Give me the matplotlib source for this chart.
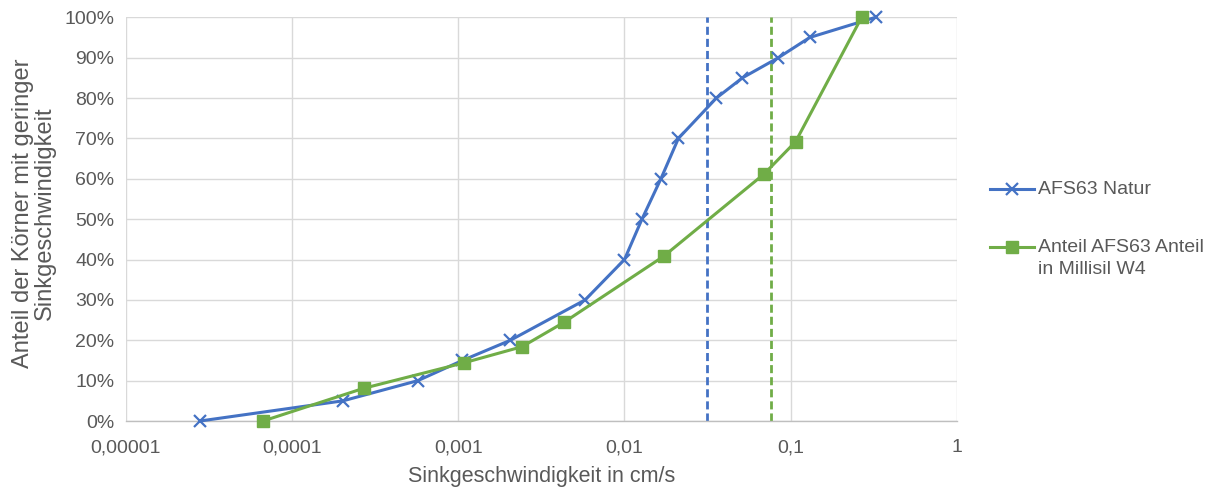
import numpy as np
import matplotlib
matplotlib.use("Agg")
import matplotlib.pyplot as plt
from matplotlib.lines import Line2D
from matplotlib.ticker import FixedLocator, FixedFormatter, NullLocator

plt.rcParams['font.family'] = ['Liberation Sans', 'DejaVu Sans']

# AFS63 Natur
natur_v = [2.8e-5, 2.03e-4, 5.72e-4, 1.06e-3, 2.06e-3, 5.8e-3, 0.01,
           0.01274, 0.01656, 0.0211, 0.0357, 0.0512, 0.0843, 0.130, 0.324]
natur_p = [0, 5, 10, 15, 20, 30, 40, 50, 60, 70, 80, 85, 90, 95, 100]

# Anteil AFS63 in Millisil W4
mill_v = [6.7e-5, 2.70e-4, 1.08e-3, 2.42e-3, 4.31e-3, 0.0172, 0.0692, 0.107, 0.267]
mill_p = [0, 8.1, 14.4, 18.4, 24.4, 40.8, 61.2, 69.2, 100]

# Grenzwerte (gestrichelt)
v_natur = 0.0315
v_mill = 0.0759

xticks = [1e-5, 1e-4, 1e-3, 1e-2, 1e-1, 1]
xticklabels = ["0,00001", "0,0001", "0,001", "0,01", "0,1", "1"]
yticks = [0, 10, 20, 30, 40, 50, 60, 70, 80, 90, 100]

blue = "#4472C4"
green = "#70AD47"
grey = "#595959"
grid = "#D9D9D9"

fig = plt.figure(figsize=(12.06, 4.91), dpi=100)
ax = fig.add_axes([125.7 / 1206, 70 / 491, (957 - 125.7) / 1206, (421 - 17.3) / 491])

ax.set_xscale("log")
ax.set_xlim(1e-5, 1)
ax.set_ylim(0, 100)

ax.xaxis.set_major_locator(FixedLocator(xticks))
ax.xaxis.set_major_formatter(FixedFormatter(xticklabels))
ax.xaxis.set_minor_locator(NullLocator())
ax.set_yticks(yticks)
ax.set_yticklabels([f"{t}%" for t in yticks])

ax.grid(True, color=grid, linewidth=1.0)
ax.set_axisbelow(True)
for s in ["top", "right", "left"]:
    ax.spines[s].set_visible(False)
ax.spines["bottom"].set_color("#BFBFBF")
ax.spines["bottom"].set_linewidth(1.0)
ax.tick_params(length=0, labelsize=14, colors=grey)
ax.tick_params(axis="x", pad=13)
ax.tick_params(axis="y", pad=8)

ax.plot(natur_v, natur_p, color=blue, lw=2.2, marker="x", ms=9, mew=1.6, zorder=3,
        clip_on=False)
ax.plot(mill_v, mill_p, color=green, lw=2.2, marker="s", ms=8, zorder=4, clip_on=False)

ax.axvline(v_natur, color=blue, lw=2.0, dashes=(2.9, 1.45), zorder=2)
ax.axvline(v_mill, color=green, lw=2.0, dashes=(2.9, 1.45), zorder=2)

ax.set_xlabel("Sinkgeschwindigkeit in cm/s", fontsize=15.5, color=grey, labelpad=7.5)
ax.set_ylabel("Anteil der Körner mit geringer\nSinkgeschwindigkeit", fontsize=17,
              color=grey, labelpad=6, linespacing=1.0)
ax.yaxis.label.set_y(0.515)

# legend
def leg_item(y, color, marker, ms, mew):
    yy = 1 - y / 491
    fig.add_artist(Line2D([990 / 1206, 1034 / 1206], [yy, yy], color=color, lw=2.2,
                          transform=fig.transFigure))
    fig.add_artist(Line2D([1012 / 1206], [yy], color=color, marker=marker, ms=ms,
                          mew=mew, transform=fig.transFigure))

leg_item(189, blue, "x", 9, 1.6)
leg_item(247, green, "s", 8, 1.0)
fig.text(1038 / 1206, 1 - 189 / 491, "AFS63 Natur", fontsize=14, color=grey, va="center")
fig.text(1038 / 1206, 1 - 247 / 491, "Anteil AFS63 Anteil", fontsize=14, color=grey, va="center")
fig.text(1038 / 1206, 1 - 270 / 491, "in Millisil W4", fontsize=14, color=grey, va="center")

fig.savefig("out.png", dpi=100)
